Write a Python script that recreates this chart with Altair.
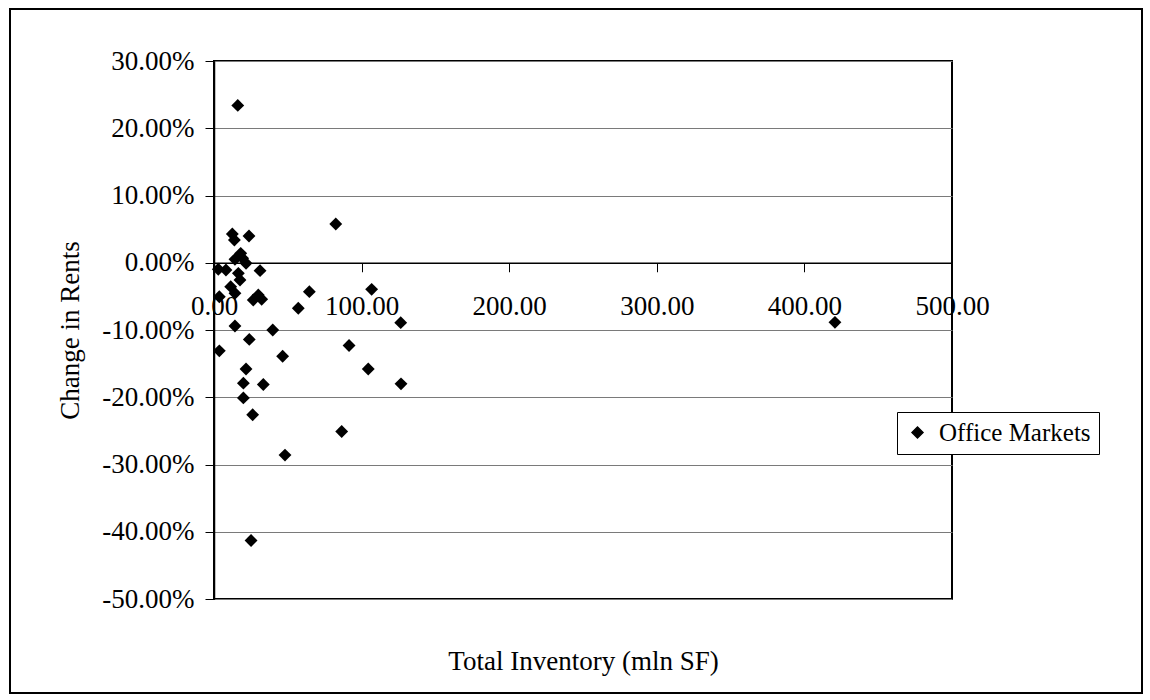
import altair as alt
import pandas as pd

# Total inventory (mln SF) and change in rents
inventory = [16.1, 12.4, 13.8, 23.7, 18.1, 14.2, 19.4, 21.7, 2.9, 8.1,
             16.5, 31.2, 17.6, 11.3, 14.2, 3.6, 30.0, 26.6, 32.3, 64.6,
             57.1, 14.2, 39.8, 23.9, 3.6, 46.5, 21.7, 19.9, 33.4, 19.9,
             26.2, 48.1, 25.1, 82.5, 106.8, 126.5, 91.5, 104.5, 126.7, 86.5,
             420.7]
rent_change = [0.234, 0.0428, 0.0338, 0.0398, 0.0140, 0.0051, 0.0066, -0.0008, -0.0097, -0.0108,
               -0.0157, -0.0118, -0.0256, -0.0356, -0.0454, -0.0505, -0.0480, -0.0554, -0.0543, -0.0430,
               -0.0677, -0.0940, -0.1000, -0.1140, -0.1310, -0.1390, -0.1580, -0.1790, -0.1810, -0.2010,
               -0.2260, -0.2860, -0.4130, 0.0576, -0.0395, -0.0891, -0.1230, -0.1580, -0.1800, -0.2510,
               -0.0886]
series_name = "Office Markets"
x_ticks = [0, 100, 200, 300, 400, 500]
y_ticks = [-0.5, -0.4, -0.3, -0.2, -0.1, 0.0, 0.1, 0.2, 0.3]

df = pd.DataFrame({
    "inventory": inventory,
    "change": rent_change,
    "series": [series_name] * len(inventory),
})

FONT = "Liberation Serif"
W, H = 738, 538
ZERO_OFFSET = -(H * 0.5 / 0.8)  # x axis crosses at 0%

points = alt.Chart(df).mark_point(
    shape="diamond", filled=True, size=165, opacity=1, color="black"
).encode(
    x=alt.X("inventory:Q",
            scale=alt.Scale(domain=[0, 500], nice=False, zero=False),
            axis=alt.Axis(values=x_ticks, format=".2f", grid=False,
                          labelFlush=False, labelOverlap=False, labelBound=False,
                          offset=ZERO_OFFSET, domainColor="black", domainWidth=1.5,
                          tickColor="black", tickSize=9, labelPadding=22,
                          labelFont=FONT, labelFontSize=27, labelColor="black",
                          title="Total Inventory (mln SF)", titleFont=FONT,
                          titleFontSize=27, titleFontWeight="normal", titleColor="black",
                          titleBaseline="middle", titleY=399)),
    y=alt.Y("change:Q",
            scale=alt.Scale(domain=[-0.5, 0.3], nice=False, zero=False),
            axis=alt.Axis(values=y_ticks,
                          labelExpr="(datum.value < 0 ? '-' : '') + format(abs(datum.value), '.2%')",
                          labelFlush=False, labelOverlap=False,
                          grid=True, gridColor="#7a7a7a", gridWidth=1,
                          domainColor="black", domainWidth=1.5,
                          tickColor="black", tickSize=9, labelPadding=11,
                          labelFont=FONT, labelFontSize=27, labelColor="black",
                          title="Change in Rents", titleFont=FONT, titleFontSize=27,
                          titleFontWeight="normal", titleColor="black",
                          titleBaseline="middle", titleX=-144, titleY=H / 2)),
    color=alt.Color("series:N", scale=alt.Scale(range=["black"]),
                    legend=alt.Legend(title=None, orient="none", legendX=683, legendY=351,
                                      symbolType="diamond", symbolSize=120,
                                      symbolFillColor="black", symbolStrokeColor="black",
                                      labelFont=FONT, labelFontSize=25, labelColor="black",
                                      labelLimit=500, labelOffset=9, padding=8,
                                      strokeColor="black", fillColor="white")),
)

frame = alt.Chart(pd.DataFrame({"a": [0]})).mark_rect(
    fill=None, stroke="black", strokeWidth=2
).encode(
    x=alt.value(-204), x2=alt.value(928), y=alt.value(-52), y2=alt.value(632)
)

chart = alt.layer(frame, points).properties(
    width=W, height=H,
    autosize=alt.AutoSizeParams(type="none"),
    padding={"left": 214, "top": 61, "right": 198, "bottom": 101},
    background="white",
).configure_view(stroke="black", strokeWidth=2)

chart.save("out.html", embed_options={"renderer": "svg", "actions": False})
